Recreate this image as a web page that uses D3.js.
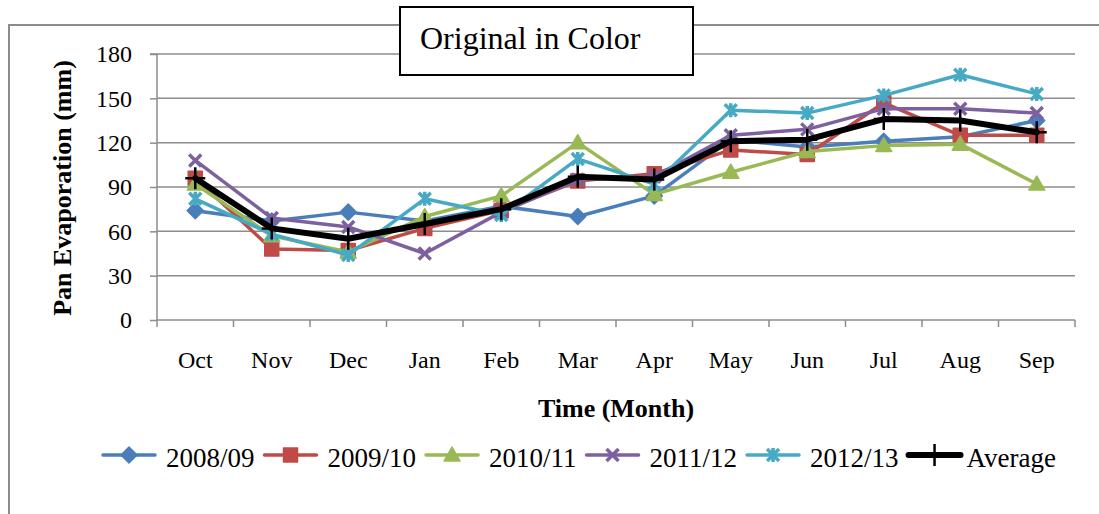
<!DOCTYPE html>
<html><head><meta charset="utf-8">
<script src="https://cdn.jsdelivr.net/npm/d3@7"></script>
<style>body{margin:0;background:#fff}svg{display:block}text{font-family:"Liberation Serif","Times New Roman",serif;fill:#000}</style>
</head><body><svg id="c" width="1099" height="514"></svg>
<script>
const months = ["Oct","Nov","Dec","Jan","Feb","Mar","Apr","May","Jun","Jul","Aug","Sep"];
const yTicks = [0,30,60,90,120,150,180];
const s0809 = [74,67,73,67,77,70,84,122,117,121,124,135];
const s0910 = [96,48,47,62,74,94,99,115,112,147,125,125];
const s1011 = [92,57,46,70,84,120,85,100,114,118,119,92];
const s1112 = [108,69,63,45,73,95,97,125,129,143,143,140];
const s1213 = [82,58,44,82,71,109,92,142,140,152,166,153];
const avg   = [96,62,55,65,75,97,95,121,122,136,135,127];
const seriesNames = ["2008/09","2009/10","2010/11","2011/12","2012/13","Average"];
const seriesColors = ["#4A7EBB","#BE4B48","#98B954","#7D60A0","#46AAC5","#000000"];
const seriesMarkers = ["diamond","square","triangle","x","star","plus"];
const seriesData = [s0809,s0910,s1011,s1112,s1213,avg];

const svg = d3.select("#c");
const L=157,R=1075,T=54,B=320;
const x = d3.scaleBand().domain(months).range([L,R]);
const y = d3.scaleLinear().domain([0,180]).range([B,T]);
const cx = m => x(m)+x.bandwidth()/2;

// outer chart border
svg.append("rect").attr("x",9).attr("y",25).attr("width",1200).attr("height",600)
  .attr("fill","none").attr("stroke","#8c8c8c").attr("stroke-width",2);

// gridlines
svg.append("g").selectAll("line").data(yTicks.filter(d=>d>0)).join("line")
  .attr("x1",L).attr("x2",R).attr("y1",d=>y(d)).attr("y2",d=>y(d))
  .attr("stroke","#8c8c8c").attr("stroke-width",1.5);

// y axis
const ya = svg.append("g").attr("transform",`translate(${L},0)`)
  .call(d3.axisLeft(y).tickValues(yTicks).tickSize(7).tickPadding(18).tickFormat(d3.format("d")));
ya.select(".domain").attr("stroke","#8c8c8c").attr("stroke-width",1.5).attr("d",`M-7,${T}H0V${B}`);
ya.selectAll(".tick line").attr("stroke","#8c8c8c").attr("stroke-width",1.5);
ya.selectAll("text").style("font-size","24px").style("font-family","'Liberation Serif',serif").attr("fill","#000");

// x axis
const xa = svg.append("g").attr("transform",`translate(0,${B})`)
  .call(d3.axisBottom(x).tickSize(0).tickPadding(0));
xa.select(".domain").attr("stroke","#8c8c8c").attr("stroke-width",1.5).attr("d",`M${L},0H${R}`);
xa.selectAll(".tick text").attr("y",48).attr("dy",0).style("font-size","24px").style("font-family","'Liberation Serif',serif").attr("fill","#000");
const bounds = months.map(m=>x(m)).concat([R]);
svg.append("g").selectAll("line").data(bounds).join("line")
  .attr("x1",d=>d).attr("x2",d=>d).attr("y1",B).attr("y2",B+7)
  .attr("stroke","#8c8c8c").attr("stroke-width",1.5);

// axis titles
svg.append("text").attr("transform",`translate(71,${(T+B)/2+1}) rotate(-90)`).attr("text-anchor","middle")
  .style("font-size","26px").style("font-weight","bold").text("Pan Evaporation (mm)");
svg.append("text").attr("x",(L+R)/2).attr("y",417).attr("text-anchor","middle")
  .style("font-size","26px").style("font-weight","bold").text("Time (Month)");

function markerPath(type){
  switch(type){
    case "diamond": return "M0,-8L8,0L0,8L-8,0Z";
    case "square": return "M-7,-7H7V7H-7Z";
    case "triangle": return "M0,-8L8,6H-8Z";
    case "x": return "M-6,-6L6,6M-6,6L6,-6";
    case "star": return "M-6,-6L6,6M-6,6L6,-6M0,-7V7";
    case "plus": return "M-10,0H10M0,-11V11";
  }
}
function drawMarker(g,type,color){
  const p = g.append("path").attr("d",markerPath(type));
  if(type==="diamond"||type==="square"||type==="triangle"){
    p.attr("fill",color).attr("stroke",color).attr("stroke-width",1.5).attr("stroke-linejoin","round");
  } else if(type==="plus"){
    p.attr("fill","none").attr("stroke",color).attr("stroke-width",2.5);
  } else {
    p.attr("fill","none").attr("stroke",color).attr("stroke-width",3.5);
  }
}

const line = d3.line().x((d,i)=>cx(months[i])).y(d=>y(d));
seriesData.forEach((data,k)=>{
  const g = svg.append("g");
  const isAvg = k===5;
  g.append("path").datum(data).attr("d",line).attr("fill","none")
    .attr("stroke",seriesColors[k]).attr("stroke-width",isAvg?6:3.5).attr("stroke-linejoin","round").attr("stroke-linecap","round");
  data.forEach((v,i)=>{
    const mg = g.append("g").attr("transform",`translate(${cx(months[i])},${y(v)})`);
    drawMarker(mg,seriesMarkers[k],seriesColors[k]);
  });
});

// title box
svg.append("rect").attr("x",400).attr("y",7).attr("width",293).attr("height",68)
  .attr("fill","#fff").attr("stroke","#000").attr("stroke-width",2);
svg.append("text").attr("x",420).attr("y",49).style("font-size","32px").text("Original in Color");

// legend
const lg = svg.append("g");
let lx = 103; const ly = 455;
seriesNames.forEach((n,k)=>{
  const it = lg.append("g");
  it.append("line").attr("x1",lx).attr("x2",lx+52).attr("y1",ly).attr("y2",ly)
    .attr("stroke",seriesColors[k]).attr("stroke-width",k===5?6:3.5).attr("stroke-linecap","round");
  const mg = it.append("g").attr("transform",`translate(${lx+26},${ly})`);
  drawMarker(mg,seriesMarkers[k],seriesColors[k]);
  const t = it.append("text").attr("x",lx+(k===5?58:63)).attr("y",467).style("font-size","27px").text(n);
  lx = lx + (k===5?58:63) + t.node().getComputedTextLength() + 10;
});
</script></body></html>
